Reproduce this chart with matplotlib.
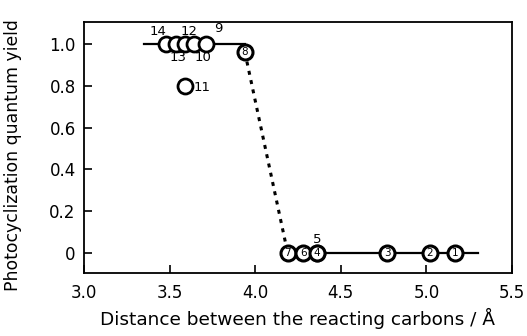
import matplotlib
matplotlib.use("Agg")
import matplotlib.pyplot as plt

plt.rcParams['font.family'] = ['DejaVu Sans']

# data: compound id, C...C distance (Å), photocyclization quantum yield
ids_inside = ['8', '7', '6', '4', '3', '2', '1']
x_inside = [3.94, 4.19, 4.28, 4.36, 4.77, 5.02, 5.17]
y_inside = [0.96, 0.0, 0.0, 0.0, 0.0, 0.0, 0.0]

ids_outside = ['14', '13', '12', '10', '9', '11', '5']
x_outside = [3.48, 3.54, 3.59, 3.64, 3.71, 3.59, 4.36]
y_outside = [1.0, 1.0, 1.0, 1.0, 1.0, 0.80, 0.0]
label_offsets = [(-6, 9), (1, -10), (3, 9), (7, -10), (9, 11), (12, -1), (0, 10)]

top_line_x = [3.35, 3.94]
top_line_y = [1.0, 1.0]
bottom_line_x = [4.19, 5.30]
bottom_line_y = [0.0, 0.0]
dash_x = [3.94, 4.19]
dash_y = [0.96, 0.0]

xticks = [3.0, 3.5, 4.0, 4.5, 5.0, 5.5]
xticklabels = ['3.0', '3.5', '4.0', '4.5', '5.0', '5.5']
yticks = [0, 0.2, 0.4, 0.6, 0.8, 1.0]
yticklabels = ['0', '0.2', '0.4', '0.6', '0.8', '1.0']

fig = plt.figure(figsize=(5.27, 3.36), dpi=100)
ax = fig.add_axes([0.1594, 0.1875, 0.8121, 0.747])

ax.plot(top_line_x, top_line_y, color='black', lw=1.6, zorder=1)
ax.plot(bottom_line_x, bottom_line_y, color='black', lw=1.6, zorder=1)
ax.plot(dash_x, dash_y, color='black', lw=2.2, ls=(0, (1.3, 1.8)), zorder=1)

ms = 10.8
for cid, xv, yv, off in zip(ids_outside, x_outside, y_outside, label_offsets):
    ax.plot([xv], [yv], marker='o', ms=ms, mfc='white', mec='black', mew=2.0,
            ls='none', zorder=2)
    ax.annotate(cid, (xv, yv), xytext=off, textcoords='offset points',
                ha='center', va='center', fontsize=9.5)

for cid, xv, yv in zip(ids_inside, x_inside, y_inside):
    ax.plot([xv], [yv], marker='o', ms=ms, mfc='white', mec='black', mew=2.2,
            ls='none', zorder=3)
    ax.text(xv, yv, cid, ha='center', va='center', fontsize=7.5, zorder=4)

ax.set_xlim(3.0, 5.5)
ax.set_ylim(-0.095, 1.105)
ax.set_xticks(xticks)
ax.set_xticklabels(xticklabels)
ax.set_yticks(yticks)
ax.set_yticklabels(yticklabels)
ax.tick_params(direction='in', length=6, width=1.2, labelsize=12)
ax.tick_params(axis='x', pad=8)
ax.tick_params(axis='y', pad=6)
for s in ax.spines.values():
    s.set_linewidth(1.3)

ax.set_xlabel('Distance between the reacting carbons / Å', fontsize=13.3, labelpad=4)
ax.set_ylabel('Photocyclization quantum yield', fontsize=12.4)
ax.yaxis.set_label_coords(-0.145, 0.47)

fig.savefig('out.png', dpi=100)
